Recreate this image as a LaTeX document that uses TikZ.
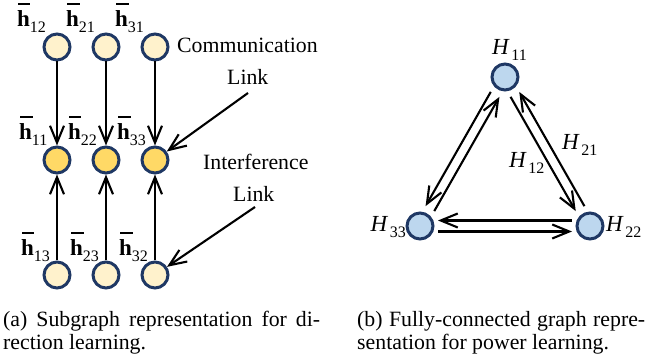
\documentclass[tikz,border=0pt]{standalone}
\usepackage{fontspec}
\setmainfont{Liberation Serif}
\usetikzlibrary{arrows.meta,calc}

\definecolor{ringblue}{HTML}{1F3864}
\definecolor{creamfill}{HTML}{FFF2CC}
\definecolor{goldfill}{HTML}{FFD966}
\definecolor{skyfill}{HTML}{BDD7EE}

% bold h with a bar over it, and a lowered index
\newcommand\barh{\leavevmode\rlap{\hspace{0.8pt}\rule[22pt]{12.5pt}{1.7pt}}\textbf{h}}
\newcommand\lowidx[1]{\raisebox{-6pt}{\fontsize{16}{16}\selectfont #1}}
\newcommand\Hidx[1]{\textit{H}\kern1.5pt\raisebox{-6pt}{\fontsize{16}{16}\selectfont #1}}

\begin{document}
\begin{tikzpicture}[x=1pt,y=-1pt,
  dot/.style={circle, draw=ringblue, line width=3pt, minimum size=26pt, inner sep=0pt},
  pale/.style={dot, fill=creamfill},
  gold/.style={dot, fill=goldfill},
  hnode/.style={dot, fill=skyfill},
  arr/.style={-{Straight Barb[length=17pt,width=14pt]}, line width=2.1pt},
  txt/.style={inner sep=0pt, font=\fontsize{21.8}{23}\selectfont},
  lbl/.style={inner sep=0pt, anchor=base west, font=\fontsize{23}{23}\selectfont},
]
\useasboundingbox (0,0) rectangle (665,358);

% ---------- (a) subgraphs for direction learning ----------
\node[pale] (t1) at (57,47) {};
\node[pale] (t2) at (106,47) {};
\node[pale] (t3) at (155,47) {};
\node[gold] (m1) at (57,160) {};
\node[gold] (m2) at (106,160) {};
\node[gold] (m3) at (155,160) {};
\node[pale] (b1) at (57,275) {};
\node[pale] (b2) at (106,275) {};
\node[pale] (b3) at (155,275) {};

\node[lbl] (lt1) at ($(t1)+(-40,-20)$) {\barh\lowidx{12}};
\node[lbl] (lt2) at ($(t2)+(-40,-20)$) {\barh\lowidx{21}};
\node[lbl] (lt3) at ($(t3)+(-40,-20)$) {\barh\lowidx{31}};
\node[lbl] (lm1) at ($(m1)+(-38,-20)$) {\barh\lowidx{11}};
\node[lbl] (lm2) at ($(m2)+(-38,-20)$) {\barh\lowidx{22}};
\node[lbl] (lm3) at ($(m3)+(-38,-20)$) {\barh\lowidx{33}};
\node[lbl] (lb1) at ($(b1)+(-36,-19)$) {\barh\lowidx{13}};
\node[lbl] (lb2) at ($(b2)+(-36,-19)$) {\barh\lowidx{23}};
\node[lbl] (lb3) at ($(b3)+(-36,-19)$) {\barh\lowidx{32}};

\draw[arr] (t1) -- (m1);
\draw[arr] (t2) -- (m2);
\draw[arr] (t3) -- (m3);
\draw[arr] (b1) -- (m1);
\draw[arr] (b2) -- (m2);
\draw[arr] (b3) -- (m3);

\node[txt, anchor=base west] (comm) at (177,53) {Communication};
\node[txt, anchor=base west] (link1) at (227,85) {Link};
\node[txt, anchor=base west] (intf) at (203,170) {Interference};
\node[txt, anchor=base west] (link2) at (233,202) {Link};
\coordinate (p1) at (248,93);
\coordinate (p2) at (255,207);
\draw[arr] (p1) -- (m3);
\draw[arr] (p2) -- (b3);

\node[txt, anchor=base west] (capa1) at (3,327)
  {\makebox[317pt][s]{(a) Subgraph representation for di-}};
\node[txt, anchor=base west] (capa2) at (3,350) {rection learning.};

% ---------- (b) fully-connected graph for power learning ----------
\node[hnode] (H11) at (505,77) {};
\node[hnode] (H33) at (420,226) {};
\node[hnode] (H22) at (590,226) {};

\node[lbl] (lH11) at (492,55) {\Hidx{11}};
\node[lbl, anchor=base east] (lH33) at (406,232) {\Hidx{33}};
\node[lbl] (lH22) at (606,232) {\Hidx{22}};
\node[lbl] (lH21) at (562,150) {\Hidx{21}};
\node[lbl] (lH12) at (509,168) {\Hidx{12}};

% H11 -- H33
\draw[arr] ($(H11)!20pt!(H33)!5pt!-90:(H33)$) -- ($(H33)!20pt!(H11)!5pt!90:(H11)$);
\draw[arr] ($(H33)!20pt!(H11)!5pt!-90:(H11)$) -- ($(H11)!20pt!(H33)!5pt!90:(H33)$);
% H11 -- H22
\draw[arr] ($(H22)!20pt!(H11)!5pt!-90:(H11)$) -- ($(H11)!20pt!(H22)!5pt!90:(H22)$);
\draw[arr] ($(H11)!20pt!(H22)!5pt!-90:(H22)$) -- ($(H22)!20pt!(H11)!5pt!90:(H11)$);
% H22 -- H33
\draw[arr] ($(H22)!18pt!(H33)!5.5pt!-90:(H33)$) -- ($(H33)!18pt!(H22)!5.5pt!90:(H22)$);
\draw[arr] ($(H33)!18pt!(H22)!5.5pt!-90:(H22)$) -- ($(H22)!18pt!(H33)!5.5pt!90:(H33)$);

\node[txt, anchor=base west] (capb1) at (357,327)
  {\makebox[288pt][s]{(b) Fully-connected graph repre-}};
\node[txt, anchor=base west] (capb2) at (357,350) {sentation for power learning.};
\end{tikzpicture}
\end{document}
